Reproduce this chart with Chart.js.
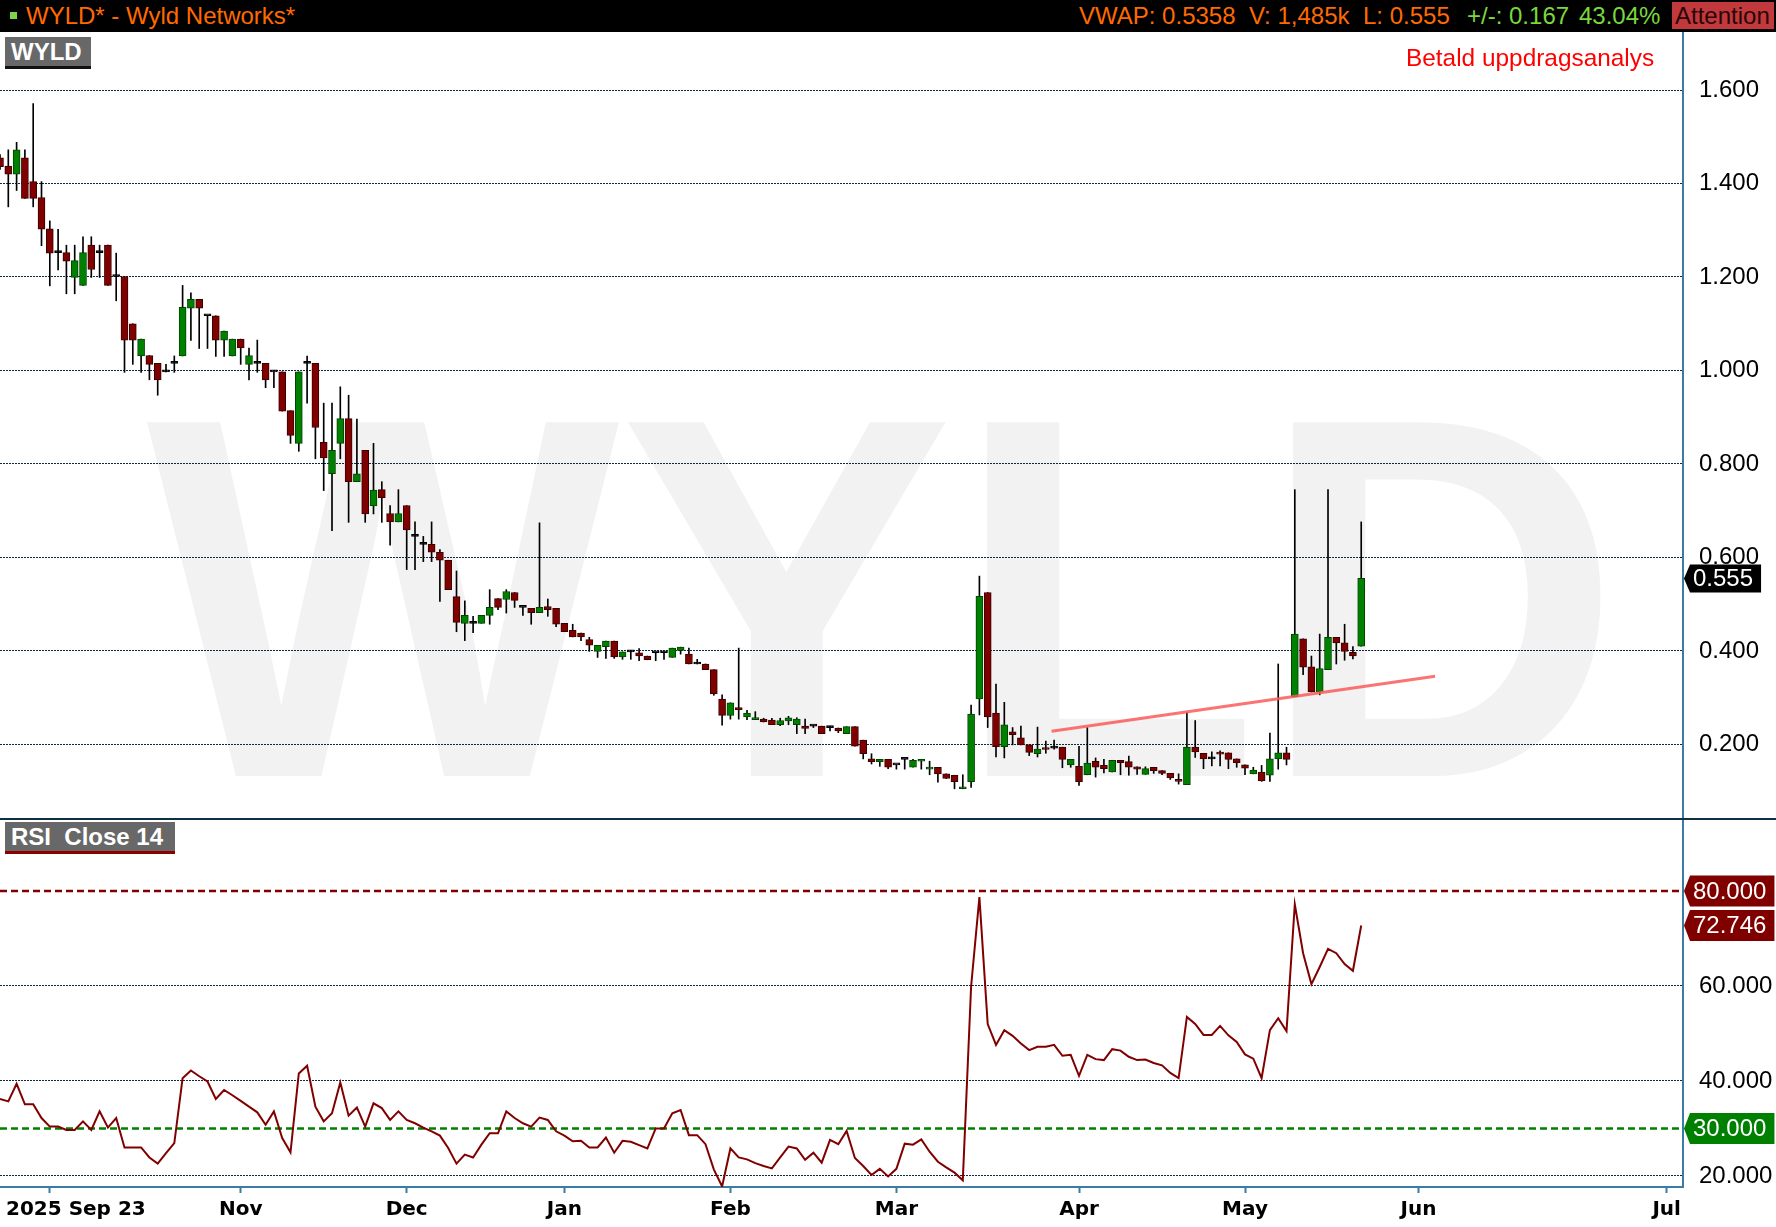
<!DOCTYPE html>
<html>
<head>
<meta charset="utf-8">
<title>WYLD - Wyld Networks</title>
<script src="https://cdn.jsdelivr.net/npm/chart.js@4.4.1/dist/chart.umd.min.js"></script>
<style>
  html, body { margin: 0; padding: 0; background: #fff; }
  body { width: 1776px; height: 1227px; position: relative; overflow: hidden;
         font-family: "Liberation Sans", Arial, sans-serif; }
  .abs { position: absolute; white-space: nowrap; }
  .hdr { top: 4px; font-size: 24px; line-height: 24px; }
  .badge { background: #686868; color: #fff; font-weight: bold; font-size: 24px;
           line-height: 29px; height: 29px; padding-left: 6px; box-sizing: border-box; }
  canvas { display: block; }
</style>
</head>
<body>

<div class="abs" style="left:0;top:0;width:1776px;height:32px;background:#000"></div>
<div class="abs" style="left:10px;top:12px;width:7px;height:7px;background:#7fd24a"></div>
<div class="abs hdr" style="left:26px;color:#ff6a00">WYLD* - Wyld Networks*</div>
<div class="abs hdr" style="left:1079px;color:#ff6a00">VWAP: 0.5358</div>
<div class="abs hdr" style="left:1249px;color:#ff6a00">V: 1,485k</div>
<div class="abs hdr" style="left:1363px;color:#ff6a00">L: 0.555</div>
<div class="abs hdr" style="left:1467px;color:#78d83c">+/-: 0.167</div>
<div class="abs hdr" style="left:1579px;color:#78d83c">43.04%</div>
<div class="abs" style="left:1672px;top:2px;width:102px;height:27px;background:#c1393d"></div>
<div class="abs hdr" style="left:1675px;color:#2a0505">Attention</div>

<div class="abs" style="left:0;top:32px"><canvas id="priceChart" width="1776" height="786"></canvas></div>
<div class="abs" style="left:0;top:818px;width:1776px;height:2px;background:#0d3042"></div>
<div class="abs" style="left:0;top:820px"><canvas id="rsiChart" width="1776" height="407"></canvas></div>

<div class="abs badge" style="left:5px;top:37px;width:86px;border-bottom:3px solid #111;height:32px">WYLD</div>
<div class="abs badge" style="left:5px;top:822px;width:170px;border-bottom:3px solid #8b0000;height:32px">RSI&nbsp;&nbsp;Close 14</div>
<div class="abs" style="left:1406px;top:46px;font-size:24.4px;line-height:24px;color:#ff0000">Betald uppdragsanalys</div>

<script>
// daily candles, oldest first (index = trading day)
const opens = [
  1.455, 1.437, 1.420, 1.455, 1.404, 1.370, 1.303, 1.252, 1.252, 1.199,
  1.182, 1.268, 1.252, 1.268, 1.201, 1.201, 1.100, 1.031, 1.032, 1.015,
  0.997, 1.015, 1.031, 1.133, 1.152, 1.117, 1.117, 1.065, 1.031, 1.067,
  1.013, 1.015, 1.015, 0.997, 0.997, 0.914, 0.844, 1.015, 1.015, 0.846,
  0.779, 0.844, 0.897, 0.762, 0.829, 0.710, 0.745, 0.694, 0.676, 0.711,
  0.645, 0.628, 0.628, 0.611, 0.594, 0.516, 0.459, 0.459, 0.459, 0.476,
  0.512, 0.510, 0.525, 0.493, 0.491, 0.482, 0.495, 0.491, 0.459, 0.444,
  0.438, 0.424, 0.399, 0.409, 0.421, 0.387, 0.398, 0.396, 0.389, 0.396,
  0.396, 0.386, 0.401, 0.393, 0.372, 0.372, 0.360, 0.297, 0.262, 0.279,
  0.259, 0.253, 0.254, 0.252, 0.242, 0.250, 0.242, 0.239, 0.239, 0.239,
  0.236, 0.235, 0.223, 0.238, 0.209, 0.169, 0.163, 0.168, 0.156, 0.168,
  0.151, 0.164, 0.147, 0.151, 0.137, 0.134, 0.105, 0.120, 0.297, 0.525,
  0.267, 0.195, 0.227, 0.214, 0.199, 0.180, 0.193, 0.192, 0.194, 0.156,
  0.153, 0.135, 0.164, 0.155, 0.141, 0.166, 0.163, 0.152, 0.136, 0.151,
  0.144, 0.138, 0.125, 0.114, 0.194, 0.181, 0.169, 0.182, 0.182, 0.169,
  0.156, 0.137, 0.141, 0.134, 0.169, 0.182, 0.302, 0.426, 0.366, 0.312,
  0.360, 0.429, 0.417, 0.397, 0.410
];
const highs = [
  1.462, 1.472, 1.488, 1.472, 1.571, 1.404, 1.320, 1.302, 1.268, 1.268,
  1.286, 1.286, 1.268, 1.268, 1.251, 1.201, 1.100, 1.067, 1.032, 1.015,
  1.013, 1.031, 1.182, 1.166, 1.152, 1.117, 1.117, 1.084, 1.067, 1.067,
  1.048, 1.065, 1.015, 0.997, 0.997, 0.914, 0.997, 1.031, 1.015, 0.930,
  0.930, 0.965, 0.947, 0.896, 0.829, 0.844, 0.762, 0.711, 0.745, 0.711,
  0.676, 0.645, 0.676, 0.617, 0.594, 0.571, 0.507, 0.474, 0.476, 0.531,
  0.512, 0.531, 0.525, 0.493, 0.491, 0.674, 0.511, 0.491, 0.459, 0.457,
  0.438, 0.429, 0.412, 0.421, 0.421, 0.398, 0.401, 0.405, 0.389, 0.396,
  0.398, 0.406, 0.408, 0.406, 0.382, 0.372, 0.360, 0.306, 0.289, 0.406,
  0.273, 0.270, 0.256, 0.256, 0.256, 0.260, 0.257, 0.254, 0.241, 0.239,
  0.239, 0.235, 0.238, 0.238, 0.209, 0.180, 0.168, 0.168, 0.156, 0.168,
  0.168, 0.168, 0.164, 0.151, 0.137, 0.134, 0.135, 0.284, 0.560, 0.525,
  0.329, 0.290, 0.236, 0.239, 0.199, 0.237, 0.207, 0.209, 0.194, 0.168,
  0.196, 0.236, 0.171, 0.168, 0.166, 0.166, 0.175, 0.152, 0.152, 0.151,
  0.144, 0.138, 0.137, 0.268, 0.251, 0.181, 0.184, 0.186, 0.182, 0.169,
  0.156, 0.151, 0.155, 0.224, 0.372, 0.194, 0.745, 0.426, 0.389, 0.436,
  0.745, 0.429, 0.457, 0.409, 0.676
];
const lows = [
  1.430, 1.350, 1.385, 1.368, 1.350, 1.267, 1.181, 1.215, 1.164, 1.164,
  1.182, 1.199, 1.199, 1.182, 1.149, 0.996, 1.013, 0.996, 0.980, 0.947,
  0.997, 0.996, 1.031, 1.064, 1.047, 1.047, 1.030, 1.030, 1.031, 1.013,
  0.980, 0.996, 0.963, 0.963, 0.913, 0.844, 0.827, 0.930, 0.811, 0.743,
  0.657, 0.811, 0.675, 0.762, 0.675, 0.693, 0.675, 0.626, 0.676, 0.574,
  0.574, 0.591, 0.591, 0.506, 0.531, 0.441, 0.422, 0.439, 0.459, 0.457,
  0.488, 0.481, 0.493, 0.476, 0.457, 0.482, 0.474, 0.452, 0.441, 0.430,
  0.422, 0.399, 0.386, 0.384, 0.384, 0.382, 0.382, 0.379, 0.381, 0.379,
  0.382, 0.386, 0.393, 0.372, 0.372, 0.360, 0.305, 0.241, 0.254, 0.254,
  0.253, 0.253, 0.248, 0.242, 0.240, 0.242, 0.223, 0.223, 0.236, 0.223,
  0.229, 0.225, 0.223, 0.196, 0.169, 0.158, 0.153, 0.148, 0.147, 0.147,
  0.151, 0.147, 0.135, 0.119, 0.127, 0.105, 0.105, 0.108, 0.263, 0.236,
  0.173, 0.171, 0.199, 0.199, 0.176, 0.173, 0.181, 0.190, 0.150, 0.151,
  0.112, 0.135, 0.130, 0.139, 0.141, 0.135, 0.134, 0.136, 0.136, 0.138,
  0.135, 0.125, 0.115, 0.114, 0.172, 0.148, 0.154, 0.154, 0.148, 0.151,
  0.135, 0.137, 0.121, 0.121, 0.147, 0.156, 0.302, 0.349, 0.312, 0.306,
  0.360, 0.372, 0.380, 0.383, 0.410
];
const closes = [
  1.436, 1.420, 1.472, 1.368, 1.368, 1.302, 1.251, 1.252, 1.234, 1.235,
  1.252, 1.216, 1.252, 1.182, 1.201, 1.065, 1.065, 1.067, 1.013, 0.980,
  0.997, 1.015, 1.135, 1.152, 1.133, 1.117, 1.065, 1.084, 1.067, 1.048,
  1.032, 1.015, 0.980, 0.997, 0.913, 0.861, 0.997, 1.015, 0.878, 0.813,
  0.829, 0.897, 0.762, 0.779, 0.693, 0.744, 0.728, 0.676, 0.694, 0.659,
  0.645, 0.628, 0.611, 0.594, 0.531, 0.461, 0.476, 0.459, 0.476, 0.493,
  0.493, 0.527, 0.508, 0.493, 0.482, 0.493, 0.488, 0.457, 0.441, 0.430,
  0.430, 0.412, 0.412, 0.421, 0.387, 0.398, 0.398, 0.389, 0.381, 0.396,
  0.396, 0.406, 0.408, 0.372, 0.372, 0.360, 0.308, 0.262, 0.289, 0.274,
  0.267, 0.257, 0.248, 0.242, 0.251, 0.257, 0.254, 0.234, 0.239, 0.223,
  0.236, 0.229, 0.238, 0.196, 0.180, 0.163, 0.168, 0.151, 0.156, 0.168,
  0.166, 0.168, 0.151, 0.137, 0.127, 0.120, 0.109, 0.265, 0.517, 0.259,
  0.195, 0.242, 0.221, 0.199, 0.183, 0.190, 0.189, 0.192, 0.168, 0.168,
  0.120, 0.160, 0.151, 0.148, 0.166, 0.161, 0.151, 0.147, 0.148, 0.144,
  0.138, 0.128, 0.121, 0.194, 0.184, 0.169, 0.169, 0.179, 0.168, 0.161,
  0.149, 0.145, 0.122, 0.169, 0.182, 0.168, 0.436, 0.365, 0.312, 0.362,
  0.429, 0.417, 0.399, 0.389, 0.555
];

// RSI(14) of close, same index as the candles
const rsi = [
  36.2, 35.7, 39.4, 35.1, 35.1, 32.2, 30.4, 30.4, 29.7, 29.7,
  31.5, 29.7, 33.6, 30.2, 32.2, 26.0, 26.0, 26.0, 23.9, 22.6,
  24.8, 26.9, 40.6, 42.2, 41.0, 39.9, 36.2, 38.1, 37.0, 35.8,
  34.6, 33.4, 30.8, 33.6, 28.0, 25.0, 41.6, 43.2, 34.6, 31.5,
  33.2, 39.7, 32.7, 34.4, 30.4, 35.3, 34.3, 31.8, 33.6, 31.8,
  31.1, 30.2, 29.4, 28.5, 25.9, 22.6, 24.5, 23.9, 26.6, 29.0,
  29.0, 33.6, 32.2, 31.1, 30.4, 32.3, 31.8, 29.4, 28.5, 27.3,
  27.4, 26.0, 26.0, 28.1, 24.9, 27.4, 27.2, 26.5, 25.8, 30.0,
  30.0, 33.2, 33.9, 28.6, 28.6, 26.7, 21.4, 17.8, 25.8, 23.9,
  23.5, 22.7, 22.1, 21.6, 23.9, 26.2, 25.8, 23.4, 24.9, 22.8,
  27.6, 26.7, 29.5, 23.8, 22.1, 20.2, 21.5, 19.9, 21.5, 26.8,
  26.6, 27.7, 25.1, 23.0, 21.8, 20.7, 19.1, 59.9, 78.7, 52.0,
  47.6, 50.7, 49.5, 47.9, 46.5, 47.2, 47.2, 47.6, 45.3, 45.5,
  41.1, 45.5, 44.6, 44.4, 46.7, 46.4, 45.1, 44.4, 44.5, 43.8,
  43.3, 41.7, 40.6, 53.5, 52.0, 49.7, 49.7, 51.6, 49.6, 48.2,
  45.6, 44.7, 40.6, 50.7, 53.2, 50.5, 77.2, 66.9, 60.4, 64.0,
  67.8, 66.9, 64.6, 63.2, 72.746
];

// hand drawn support line (trading day index, price)
const trendX = [126.7, 172.9];
const trendY = [0.228, 0.346];

// RSI guide levels
const rsiLevels = [80, 30];
const rsiLevelColors = ['#800000', '#008000'];

const priceTicks = [0.2, 0.4, 0.6, 0.8, 1.0, 1.2, 1.4, 1.6];
const rsiTicks = [20, 40, 60];
const xTickPos = [6, 29, 49, 68, 88, 108, 130, 150, 170.9, 200.8];
const xTickText = ['2025 Sep 23', 'Nov', 'Dec', 'Jan', 'Feb', 'Mar', 'Apr', 'May', 'Jun', 'Jul'];

// visible window
const X_MAX = 202.77;
const PRICE_MIN = 0.0425, PRICE_MAX = 1.7241;
const RSI_MIN = 17.68, RSI_MAX = 94.95;

const GRID_COLOR = '#0e2a3a';
const AXIS_BLUE = '#3a7ca3';
const AXIS_W = 93;

Chart.defaults.font.family = '"Liberation Sans", Arial, sans-serif';
Chart.defaults.color = '#000';

function noPad(s) {
  s.paddingLeft = 0; s.paddingRight = 0; s.paddingTop = 0; s.paddingBottom = 0;
}

// value tag on the right axis (pointed left)
function drawTag(chart, value, color, text, h) {
  const ctx = chart.ctx;
  const y = chart.scales.y.getPixelForValue(value);
  const x0 = chart.chartArea.right + 1;
  ctx.save();
  ctx.font = '24px "Liberation Sans"';
  const w = ctx.measureText(text).width;
  const x1 = Math.min(x0 + 8 + w + 9, chart.width);
  ctx.fillStyle = color;
  ctx.beginPath();
  ctx.moveTo(x0, y);
  ctx.lineTo(x0 + 6, y - h / 2);
  ctx.lineTo(x1, y - h / 2);
  ctx.lineTo(x1, y + h / 2);
  ctx.lineTo(x0 + 6, y + h / 2);
  ctx.closePath();
  ctx.fill();
  ctx.fillStyle = '#fff';
  ctx.textBaseline = 'middle';
  ctx.fillText(text, x0 + 9, y + 1);
  ctx.restore();
}

const watermark = {
  id: 'watermark',
  beforeDraw(chart) {
    const ctx = chart.ctx;
    ctx.save();
    ctx.fillStyle = '#f2f2f2';
    ctx.font = 'bold 501px "Liberation Sans"';
    ctx.textAlign = 'center';
    ctx.translate(884, 744);
    ctx.scale(1, 1.026);
    ctx.fillText('WYLD', 0, 0);
    ctx.restore();
  }
};

const lastPriceTag = {
  id: 'lastPriceTag',
  afterDraw(chart) {
    const last = closes[closes.length - 1];
    drawTag(chart, last, '#000', last.toFixed(3), 28);
  }
};

const rsiTags = {
  id: 'rsiTags',
  afterDraw(chart) {
    rsiLevels.forEach((lv, j) => drawTag(chart, lv, rsiLevelColors[j], lv.toFixed(3), 31));
    const last = rsi[rsi.length - 1];
    drawTag(chart, last, '#800000', last.toFixed(3), 31);
  }
};

// first date label starts at the left edge instead of centred on its tick
const firstTickLabel = {
  id: 'firstTickLabel',
  beforeDraw(chart) {
    const items = chart.scales.x.getLabelItems();
    if (items.length) {
      items[0].options.textAlign = 'left';
      items[0].options.translation[0] = chart.chartArea.left + 6;
    }
  }
};

const idx = closes.map((c, i) => i);
const dir = closes.map((c, i) => c > opens[i] ? 1 : (c < opens[i] ? -1 : 0));
const bodyFill = dir.map(d => d > 0 ? '#008000' : (d < 0 ? '#800000' : '#000000'));
const bodyEdge = dir.map(d => d > 0 ? '#004400' : (d < 0 ? '#3a0000' : '#000000'));

const baseOptions = {
  responsive: false,
  animation: false,
  devicePixelRatio: 1,
  events: [],
  layout: { padding: 0 },
  plugins: { legend: { display: false }, tooltip: { enabled: false } }
};

new Chart(document.getElementById('priceChart'), {
  type: 'bar',
  data: {
    datasets: [
      {
        type: 'line',
        label: 'trend',
        data: trendX.map((x, i) => ({ x: x, y: trendY[i] })),
        borderColor: 'rgba(250, 90, 90, 0.85)',
        borderWidth: 3,
        pointRadius: 0,
        order: 0
      },
      {
        label: 'body',
        data: idx.map(i => ({ x: i, y: [opens[i], closes[i]] })),
        backgroundColor: bodyFill,
        borderColor: bodyEdge,
        borderWidth: 1,
        borderSkipped: false,
        barThickness: 7,
        minBarLength: 2,
        grouped: false,
        order: 1
      },
      {
        label: 'wick',
        data: idx.map(i => ({ x: i, y: [lows[i], highs[i]] })),
        backgroundColor: '#000',
        barThickness: 1,
        grouped: false,
        order: 2
      }
    ]
  },
  options: Object.assign({}, baseOptions, {
    scales: {
      x: { type: 'linear', min: 0, max: X_MAX, offset: false, display: false },
      y: {
        position: 'right',
        min: PRICE_MIN,
        max: PRICE_MAX,
        afterBuildTicks: s => { s.ticks = priceTicks.map(v => ({ value: v })); },
        afterFit: s => { s.width = AXIS_W; noPad(s); },
        ticks: { callback: v => Number(v).toFixed(3), font: { size: 24 }, color: '#000', padding: 16 },
        grid: { color: GRID_COLOR, lineWidth: 1, drawTicks: false },
        border: { display: true, color: AXIS_BLUE, width: 2, dash: [2, 1] }
      }
    }
  }),
  plugins: [watermark, lastPriceTag]
});

new Chart(document.getElementById('rsiChart'), {
  type: 'line',
  data: {
    datasets: [
      {
        label: 'RSI Close 14',
        data: rsi.map((v, i) => ({ x: i, y: v })),
        borderColor: '#800000',
        borderWidth: 2,
        pointRadius: 0,
        order: 0
      }
    ].concat(rsiLevels.map((lv, j) => ({
      label: 'level ' + lv,
      data: [{ x: 0, y: lv }, { x: X_MAX, y: lv }],
      borderColor: rsiLevelColors[j],
      borderWidth: 2.5,
      borderDash: [7, 4],
      pointRadius: 0,
      order: 1
    })))
  },
  options: Object.assign({}, baseOptions, {
    scales: {
      x: {
        type: 'linear',
        min: 0,
        max: X_MAX,
        offset: false,
        afterBuildTicks: s => { s.ticks = xTickPos.map(v => ({ value: v })); },
        afterFit: s => { s.height = 40; noPad(s); },
        ticks: {
          autoSkip: false,
          maxRotation: 0,
          callback: (v, i) => xTickText[i],
          font: { family: '"DejaVu Sans"', size: 20, weight: 'bold' },
          color: '#000',
          padding: 5
        },
        grid: { drawOnChartArea: false, drawTicks: true, tickLength: 6, tickColor: AXIS_BLUE, tickWidth: 2 },
        border: { display: true, color: AXIS_BLUE, width: 2 }
      },
      y: {
        position: 'right',
        min: RSI_MIN,
        max: RSI_MAX,
        afterBuildTicks: s => { s.ticks = rsiTicks.map(v => ({ value: v })); },
        afterFit: s => { s.width = AXIS_W; noPad(s); },
        ticks: { callback: v => Number(v).toFixed(3), font: { size: 24 }, color: '#000', padding: 16 },
        grid: { color: GRID_COLOR, lineWidth: 1, drawTicks: false },
        border: { display: true, color: AXIS_BLUE, width: 2, dash: [2, 1] }
      }
    }
  }),
  plugins: [firstTickLabel, rsiTags]
});
</script>
</body>
</html>
